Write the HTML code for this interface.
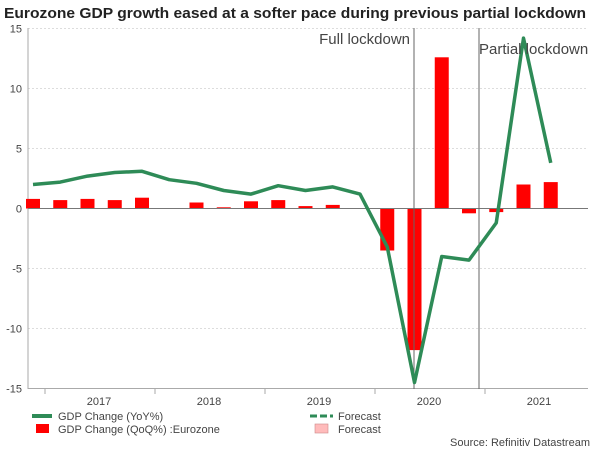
<!DOCTYPE html>
<html><head><meta charset="utf-8"><style>
body{margin:0;background:#fff;font-family:"Liberation Sans",sans-serif;}
svg text{font-family:"Liberation Sans",sans-serif;}
</style></head><body>
<svg width="600" height="450" xmlns="http://www.w3.org/2000/svg">
<text x="4" y="18" font-size="15" font-weight="bold" fill="#222" textLength="582" lengthAdjust="spacingAndGlyphs">Eurozone GDP growth eased at a softer pace during previous partial lockdown</text>
<g id="grid"></g>
<g id="bars"></g>
<g id="marks"></g>
<text x="410" y="44" text-anchor="end" font-size="15" fill="#444">Full lockdown</text>
<text x="479" y="54" font-size="15" fill="#444">Partial lockdown</text>
<g font-size="11" fill="#444">
<line x1="32" y1="416" x2="52" y2="416" stroke="#2e8b57" stroke-width="4"/>
<text x="58" y="420">GDP Change (YoY%)</text>
<rect x="36" y="424" width="13" height="9" fill="#f00"/>
<text x="58" y="433">GDP Change (QoQ%) :Eurozone</text>
<line x1="310" y1="416" x2="333" y2="416" stroke="#2e8b57" stroke-width="3" stroke-dasharray="7,3"/>
<text x="338" y="420">Forecast</text>
<rect x="315" y="424" width="13" height="9" fill="#fbb" stroke="#c88" stroke-width="0.6"/>
<text x="338" y="433">Forecast</text>
</g>
<text x="590" y="446" text-anchor="end" font-size="11" fill="#444">Source: Refinitiv Datastream</text>
</svg>
<script>
const yoy=[2.0,2.2,2.7,3.0,3.1,2.4,2.1,1.5,1.2,1.9,1.5,1.8,1.2,-3.2,-14.5,-4.0,-4.3,-1.2,14.2,3.8];
const qoq=[0.8,0.7,0.8,0.7,0.9,0,0.5,0.1,0.6,0.7,0.2,0.3,0,-3.5,-11.8,12.6,-0.4,-0.3,2.0,2.2];
const yTicks=[15,10,5,0,-5,-10,-15];
const years=["2017","2018","2019","2020","2021"];
const NS="http://www.w3.org/2000/svg";
const X=i=>33+27.25*i;
const Y=v=>208.5-12*v;
function mk(tag,attrs,parent){const e=document.createElementNS(NS,tag);for(const k in attrs)e.setAttribute(k,attrs[k]);parent.appendChild(e);return e;}
const grid=document.getElementById('grid'),bars=document.getElementById('bars'),marks=document.getElementById('marks');
yTicks.forEach(t=>{
  if(t!==0&&t!==-15){const l=mk('line',{x1:28,x2:588,y1:Y(t),y2:Y(t),stroke:'#ddd','stroke-dasharray':'2,2'},grid);
  
  }
  const tx=mk('text',{x:22,y:Y(t)+4,'text-anchor':'end','font-size':11,fill:'#444'},grid);tx.textContent=t;
  
  
});
mk('line',{x1:28,x2:28,y1:28,y2:389,stroke:'#aaa'},grid);
mk('line',{x1:28,x2:588,y1:388.5,y2:388.5,stroke:'#aaa'},grid);
years.forEach((y,k)=>{
  const x0=45+110*k;
  mk('line',{x1:x0,x2:x0,y1:389,y2:394,stroke:'#aaa'},grid);
  const tx=mk('text',{x:x0+54,y:405,'text-anchor':'middle','font-size':11,fill:'#444'},grid);tx.textContent=y;
  
  
});
qoq.forEach((v,i)=>{
  if(v===0)return;
  const r=mk('rect',{x:X(i)-7,width:14,y:Math.min(Y(v),Y(0)),height:Math.abs(Y(v)-Y(0)),fill:'#f00'},bars);
  
  
});
mk('line',{x1:28,x2:588,y1:208.5,y2:208.5,stroke:'#777'},marks);
[414,479].forEach(x=>{const l=mk('line',{x1:x,x2:x,y1:28,y2:389,stroke:'#666'},marks);
  
  });
const p=mk('polyline',{points:yoy.map((v,i)=>X(i)+','+Y(v)).join(' '),fill:'none',stroke:'#2e8b57','stroke-width':3.5,'stroke-linejoin':'round'},marks);


</script>
</body></html>
